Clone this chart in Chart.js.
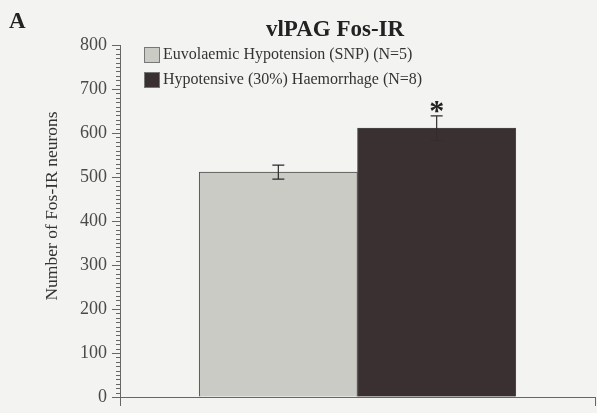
<!DOCTYPE html>
<html>
<head>
<meta charset="utf-8">
<script src="https://cdn.jsdelivr.net/npm/chart.js@4.4.0/dist/chart.umd.min.js"></script>
<style>
  html, body { margin: 0; padding: 0; background: #f3f3f1; }
  #wrap { width: 597px; height: 413px; }
</style>
</head>
<body>
<div id="wrap"><canvas id="chart" width="597" height="413"></canvas></div>
<script>
// data
const groups = ['Euvolaemic Hypotension (SNP) (N=5)', 'Hypotensive (30%) Haemorrhage (N=8)'];
const positions = [1, 2];
const means = [511, 611];
const sems = [16, 28];
const significant = [false, true];
const yTicks = [0, 100, 200, 300, 400, 500, 600, 700, 800];

const barColors = ['#c9cbc4', '#3a2f31'];
const errColors = ['#2a2a2a', '#342b2d'];
const serif = '"Liberation Serif", "DejaVu Serif", serif';

// error bars, asterisk, minor ticks, labels
const extras = {
  id: 'extras',
  afterDatasetsDraw(chart) {
    const ctx = chart.ctx;
    const x = chart.scales.x;
    const y = chart.scales.y;
    ctx.save();
    ctx.lineWidth = 1.2;
    means.forEach((m, i) => {
      const px = x.getPixelForValue(positions[i]);
      const top = y.getPixelForValue(m + sems[i]);
      const bot = y.getPixelForValue(m - sems[i]);
      const cap = 6;
      ctx.strokeStyle = errColors[i];
      ctx.beginPath();
      ctx.moveTo(px, top); ctx.lineTo(px, bot);
      ctx.moveTo(px - cap, top); ctx.lineTo(px + cap, top);
      ctx.moveTo(px - cap, bot); ctx.lineTo(px + cap, bot);
      ctx.stroke();
      if (significant[i]) {
        ctx.fillStyle = '#222';
        ctx.font = 'bold 30px ' + serif;
        ctx.textAlign = 'center';
        ctx.textBaseline = 'alphabetic';
        ctx.fillText('*', px, top + 4);
      }
    });

    // minor ticks every 10
    ctx.strokeStyle = '#666';
    ctx.lineWidth = 1;
    ctx.beginPath();
    for (let v = 0; v <= 800; v += 10) {
      if (v % 100 === 0) continue;
      const py = Math.round(y.getPixelForValue(v)) + 0.5;
      ctx.moveTo(y.right - 4, py);
      ctx.lineTo(y.right, py);
    }
    ctx.stroke();

    // legend
    ctx.font = '16px ' + serif;
    ctx.textAlign = 'left';
    ctx.textBaseline = 'middle';
    groups.forEach((g, i) => {
      const bx = 144, by = 47 + i * 25;
      ctx.fillStyle = barColors[i];
      ctx.fillRect(bx, by, 16, 16);
      ctx.strokeStyle = '#777';
      ctx.strokeRect(bx + 0.5, by + 0.5, 15, 15);
      ctx.fillStyle = '#333';
      ctx.fillText(g, 163, by + 8);
    });

    // title, panel letter, axis title
    ctx.fillStyle = '#222';
    ctx.textAlign = 'center';
    ctx.textBaseline = 'alphabetic';
    ctx.font = 'bold 23px ' + serif;
    ctx.fillText('vlPAG Fos-IR', 335, 36);
    ctx.textAlign = 'left';
    ctx.font = 'bold 23px ' + serif;
    ctx.fillText('A', 9, 28);

    ctx.translate(52, 206);
    ctx.rotate(-Math.PI / 2);
    ctx.textAlign = 'center';
    ctx.textBaseline = 'middle';
    ctx.fillStyle = '#333';
    ctx.font = '17.5px ' + serif;
    ctx.fillText('Number of Fos-IR neurons', 0, 0);
    ctx.restore();
  }
};

new Chart(document.getElementById('chart'), {
  type: 'bar',
  data: {
    datasets: groups.map((g, i) => ({
      label: g,
      data: [{ x: positions[i], y: means[i] }],
      backgroundColor: barColors[i],
      borderColor: '#4a4a4a',
      borderWidth: 1,
      barPercentage: 1,
      categoryPercentage: 1,
      grouped: false
    }))
  },
  options: {
    responsive: false,
    animation: false,
    layout: { padding: { top: 45, right: 2, left: 0, bottom: 0 } },
    plugins: { legend: { display: false }, tooltip: { enabled: false }, title: { display: false } },
    scales: {
      x: {
        type: 'linear',
        min: 0,
        max: 3,
        offset: false,
        afterBuildTicks(scale) { scale.ticks = [{ value: 0 }, { value: 3 }]; },
        afterFit(scale) { scale.height = 16; },
        ticks: { display: false },
        grid: { offset: false, drawOnChartArea: false, drawTicks: true, tickLength: 9, color: '#666' },
        border: { color: '#666', width: 1 }
      },
      y: {
        min: 0,
        max: 800,
        afterBuildTicks(scale) { scale.ticks = yTicks.map(v => ({ value: v })); },
        afterFit(scale) { scale.width = 120; },
        ticks: { color: '#4a4a4a', font: { family: serif, size: 18 }, padding: 5 },
        grid: { drawOnChartArea: false, drawTicks: true, tickLength: 8, color: '#666' },
        border: { color: '#666', width: 1 }
      }
    }
  },
  plugins: [extras]
});
</script>
</body>
</html>
